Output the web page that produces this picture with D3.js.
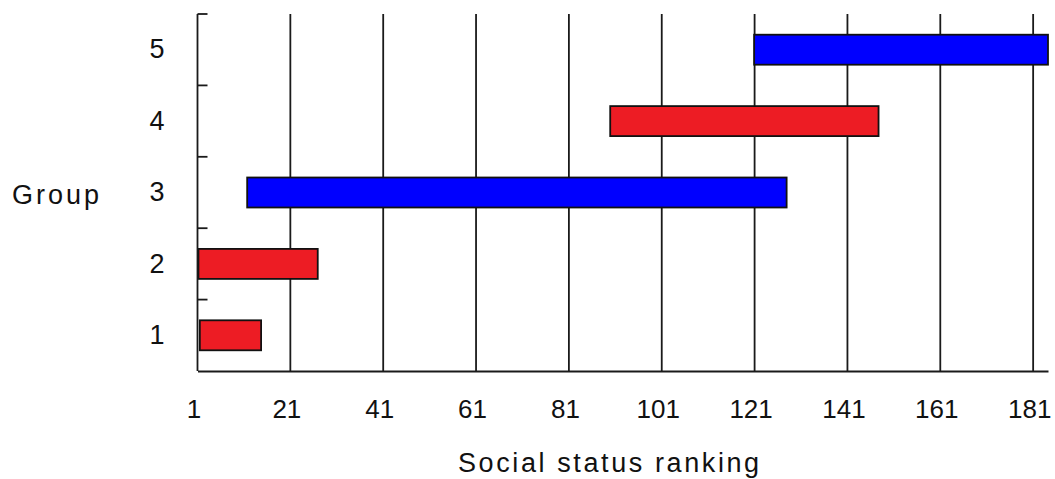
<!DOCTYPE html>
<html>
<head>
<meta charset="utf-8">
<script src="https://cdn.jsdelivr.net/npm/d3@7"></script>
<style>
  html, body { margin: 0; padding: 0; background: #fff; }
  svg text { font-family: "Liberation Sans", Arial, sans-serif; fill: #111; }
</style>
</head>
<body>
<svg id="chart" width="1055" height="479"></svg>
<script>
// ---- data ----
const groups = [1, 2, 3, 4, 5];
const rangeStart = [1.5, 1.2, 11.7, 89.9, 120.9];
const rangeEnd = [14.7, 26.9, 127.9, 147.7, 184.2];
const barColors = ["#ED1C24", "#ED1C24", "#0000FF", "#ED1C24", "#0000FF"];
const xTicks = [1, 21, 41, 61, 81, 101, 121, 141, 161, 181];
const xDomain = [1, 184.2];
const xTitle = "Social status ranking";
const yTitle = "Group";

(function () {
// ---- layout ----
const svg = d3.select("#chart");
const mLeft = 197.5, mRight = 1048, mTop = 14, mBottom = 371;

const x = d3.scaleLinear().domain(xDomain).range([mLeft, mRight]);
const y = d3.scaleBand().domain(groups.slice().reverse()).range([mTop, mBottom])
  .paddingInner(0.58).paddingOuter(0.29);
const step = y.step();

const fontSize = 27;
const lineCol = "#1a1a1a";

// vertical grid lines
svg.append("g").selectAll("line")
  .data(xTicks.filter(t => t !== xDomain[0]))
  .join("line")
  .attr("x1", d => x(d)).attr("x2", d => x(d))
  .attr("y1", mTop).attr("y2", mBottom)
  .attr("stroke", lineCol).attr("stroke-width", 1.8);

// bars
const data = groups.map((g, i) => ({ g, s: rangeStart[i], e: rangeEnd[i], c: barColors[i] }));
svg.append("g").selectAll("rect")
  .data(data)
  .join("rect")
  .attr("x", d => x(d.s))
  .attr("width", d => x(d.e) - x(d.s))
  .attr("y", d => y(d.g))
  .attr("height", y.bandwidth())
  .attr("fill", d => d.c)
  .attr("stroke", "#111").attr("stroke-width", 1.8);

// left axis line
svg.append("line")
  .attr("x1", mLeft).attr("x2", mLeft).attr("y1", mTop).attr("y2", mBottom)
  .attr("stroke", lineCol).attr("stroke-width", 1.8);

// y ticks at category boundaries
svg.append("g").selectAll("line")
  .data(groups)
  .join("line")
  .attr("x1", mLeft).attr("x2", mLeft + 10)
  .attr("y1", d => y(d) + y.bandwidth() / 2 - step / 2)
  .attr("y2", d => y(d) + y.bandwidth() / 2 - step / 2)
  .attr("stroke", lineCol).attr("stroke-width", 1.8);

// x axis
const xAxis = svg.append("g")
  .attr("transform", `translate(0,${mBottom})`)
  .call(d3.axisBottom(x).tickValues(xTicks).tickFormat(d3.format("d")).tickSize(0).tickPadding(29));
xAxis.select(".domain").attr("stroke", lineCol).attr("stroke-width", 1.8);
xAxis.selectAll("text")
  .attr("font-size", 26)
  .attr("dx", -4)
  .style("font-family", "'Liberation Sans', Arial, sans-serif")
  .attr("fill", "#111");

// y axis labels
const yAxis = svg.append("g")
  .attr("transform", `translate(${mLeft},0)`)
  .call(d3.axisLeft(y).tickSize(0).tickPadding(33));
yAxis.select(".domain").remove();
yAxis.selectAll("text")
  .attr("font-size", fontSize)
  .style("font-family", "'Liberation Sans', Arial, sans-serif")
  .attr("fill", "#111");

// titles
svg.append("text")
  .attr("x", 12).attr("y", 204)
  .attr("font-size", fontSize)
  .style("letter-spacing", "3px")
  .text(yTitle);

svg.append("text")
  .attr("x", 458).attr("y", 472)
  .attr("font-size", fontSize)
  .style("letter-spacing", "2.6px")
  .text(xTitle);
})();
</script>
</body>
</html>
